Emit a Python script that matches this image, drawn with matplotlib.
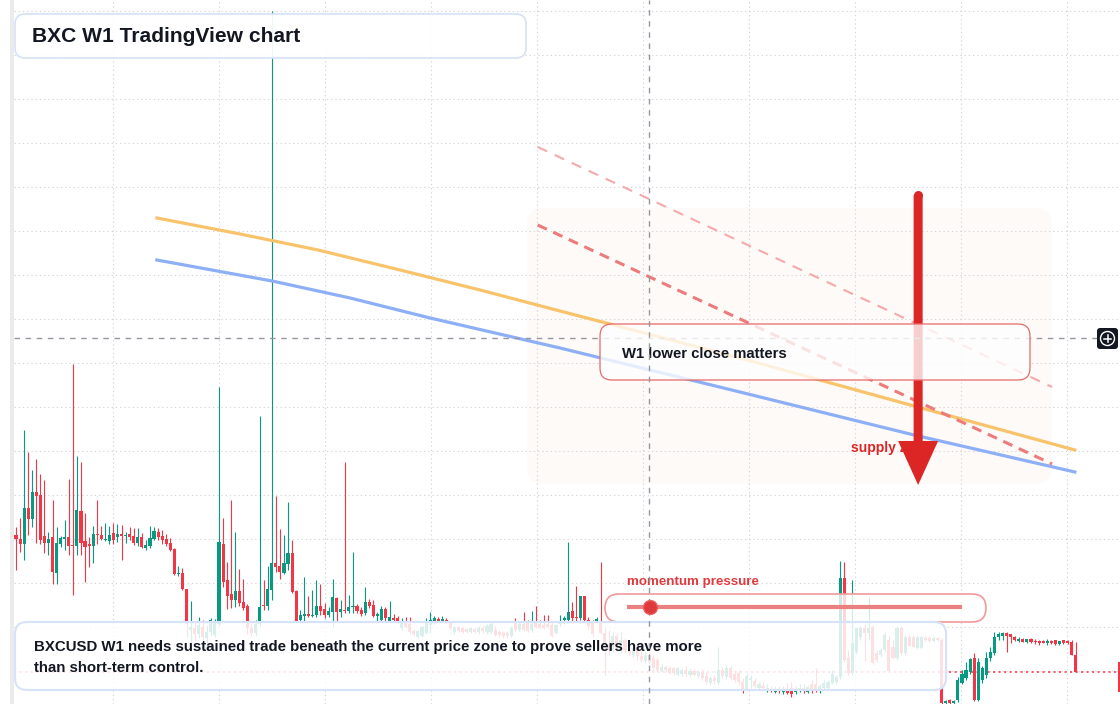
import matplotlib
matplotlib.use("Agg")
import matplotlib.pyplot as plt
import numpy as np
from matplotlib.patches import ArrowStyle, Circle, FancyArrowPatch, FancyBboxPatch, Rectangle

plt.rcParams["font.family"] = ["Liberation Sans", "DejaVu Sans"]

# BXCUSD weekly candles (W1), prices in US cents
opens = [
    169, 165, 160, 196, 185, 212, 209, 168, 161, 167,
    131, 160, 165, 167, 159, 158, 193, 163, 160, 158,
    170, 169, 164, 163, 171, 167, 170, 168, 170, 168,
    161, 167, 156, 158, 165, 172, 168, 165, 161, 155,
    130, 131, 115, 74, 76, 70, 77, 66, 72, 69,
    80, 160, 124, 110, 104, 113, 102, 98, 76, 71,
    80, 99, 98, 114, 141, 138, 131, 140, 151, 113,
    84, 88, 90, 88, 89, 98, 95, 89, 92, 106,
    92, 94, 93, 97, 98, 94, 91, 102, 99, 88,
    84, 95, 83, 86, 86, 76, 81, 80, 73, 67,
    68, 71, 79, 82, 85, 83, 84, 82, 72, 77,
    76, 75, 72, 75, 72, 76, 72, 72, 74, 72,
    71, 71, 68, 81, 74, 80, 81, 74, 83, 80,
    79, 80, 79, 71, 80, 84, 84, 93, 87, 86,
    108, 84, 81, 83, 81, 71, 59, 54, 68, 54,
    64, 54, 49, 56, 48, 43, 49, 46, 44, 33,
    37, 36, 36, 29, 30, 34, 29, 33, 28, 32,
    28, 21, 26, 21, 34, 27, 36, 30, 31, 22,
    15, 24, 23, 16, 18, 14, 15, 12, 15, 12,
    15, 16, 12, 14, 16, 12, 20, 20, 13, 16,
    16, 21, 22, 27, 126, 46, 31, 52, 67, 76,
    71, 77, 51, 49, 54, 64, 57, 46, 76, 51,
    67, 67, 56, 56, 66, 66, 63, 66, 64, 1,
    4, 1, 4, 21, 26, 32, 46, 4, 24, 29,
    46, 51, 67, 68, 71, 70, 67, 63, 65, 62,
    65, 63, 63, 63, 61, 63, 64, 60, 64, 63,
    62, 49,
]
highs = [
    177, 186, 274, 252, 234, 245, 230, 224, 172, 204,
    177, 168, 184, 225, 340, 248, 242, 191, 167, 178,
    204, 178, 181, 178, 181, 180, 179, 172, 177, 176,
    176, 171, 164, 178, 177, 176, 174, 170, 166, 156,
    138, 136, 115, 103, 82, 87, 84, 79, 86, 85,
    317, 186, 142, 204, 172, 135, 125, 100, 80, 84,
    288, 124, 138, 693, 208, 175, 169, 202, 164, 114,
    94, 127, 108, 114, 124, 120, 101, 97, 125, 107,
    104, 242, 109, 152, 100, 97, 117, 105, 104, 92,
    98, 97, 103, 90, 88, 86, 87, 87, 75, 74,
    78, 86, 92, 88, 87, 88, 86, 83, 78, 78,
    77, 76, 77, 76, 78, 78, 80, 82, 78, 74,
    73, 73, 78, 86, 82, 92, 84, 93, 98, 84,
    89, 89, 82, 80, 89, 88, 162, 102, 118, 108,
    108, 87, 84, 87, 142, 76, 74, 72, 71, 72,
    66, 61, 59, 58, 54, 52, 52, 49, 47, 40,
    39, 38, 37, 37, 36, 38, 36, 35, 34, 35,
    32, 28, 29, 57, 37, 39, 38, 34, 34, 26,
    31, 29, 26, 22, 22, 20, 18, 18, 18, 18,
    21, 22, 18, 20, 20, 19, 24, 36, 20, 24,
    24, 34, 29, 143, 142, 54, 124, 76, 78, 79,
    107, 79, 54, 56, 72, 68, 64, 78, 78, 69,
    70, 69, 68, 68, 68, 68, 67, 67, 66, 4,
    5, 4, 27, 34, 42, 46, 51, 46, 38, 52,
    57, 72, 72, 72, 72, 70, 68, 67, 66, 65,
    66, 65, 64, 64, 65, 64, 64, 63, 64, 64,
    64, 62,
]
lows = [
    134, 152, 144, 169, 177, 161, 160, 151, 149, 120,
    120, 157, 154, 149, 109, 149, 149, 122, 137, 141,
    160, 164, 163, 160, 160, 162, 144, 161, 164, 159,
    158, 156, 154, 156, 164, 164, 160, 158, 153, 129,
    128, 114, 67, 62, 64, 66, 60, 58, 68, 67,
    78, 117, 95, 96, 97, 98, 94, 70, 68, 68,
    78, 94, 94, 104, 132, 125, 130, 134, 111, 82,
    82, 82, 87, 87, 87, 89, 86, 87, 77, 82,
    87, 91, 91, 91, 91, 88, 89, 96, 87, 82,
    82, 83, 82, 82, 81, 74, 76, 70, 68, 66,
    67, 70, 71, 80, 82, 82, 81, 74, 70, 72,
    71, 71, 71, 71, 70, 71, 70, 71, 68, 67,
    66, 66, 67, 73, 73, 73, 72, 72, 76, 75,
    75, 76, 67, 70, 78, 80, 82, 83, 82, 84,
    82, 74, 68, 81, 70, 29, 49, 52, 54, 51,
    51, 48, 47, 44, 42, 41, 40, 33, 32, 32,
    32, 30, 29, 28, 28, 28, 27, 28, 26, 24,
    20, 19, 20, 19, 26, 25, 24, 22, 20, 11,
    14, 16, 16, 14, 14, 12, 12, 11, 11, 10,
    10, 7, 10, 12, 11, 11, 11, 12, 11, 14,
    14, 20, 20, 25, 42, 29, 29, 50, 64, 43,
    64, 40, 42, 47, 52, 32, 45, 44, 49, 49,
    58, 57, 55, 55, 63, 62, 62, 63, 0, 0,
    0, 0, 2, 20, 24, 30, 3, 3, 21, 26,
    43, 49, 64, 64, 52, 61, 63, 62, 62, 61,
    61, 60, 59, 61, 59, 60, 59, 59, 60, 60,
    49, 32,
]
closes = [
    165, 160, 196, 185, 212, 208, 164, 161, 165, 132,
    161, 166, 167, 158, 158, 194, 161, 157, 158, 170,
    169, 165, 165, 169, 164, 170, 168, 169, 167, 161,
    167, 157, 159, 166, 173, 167, 164, 160, 154, 130,
    131, 115, 80, 77, 70, 79, 67, 72, 84, 82,
    162, 122, 108, 104, 113, 101, 96, 76, 71, 80,
    97, 98, 115, 141, 137, 132, 141, 151, 112, 83,
    89, 90, 88, 89, 98, 93, 89, 93, 107, 92,
    95, 93, 97, 98, 93, 90, 102, 98, 88, 90,
    95, 86, 87, 84, 83, 82, 77, 72, 70, 73,
    77, 82, 84, 86, 83, 85, 82, 76, 77, 73,
    72, 72, 76, 72, 76, 73, 78, 80, 69, 69,
    68, 68, 76, 74, 80, 74, 73, 80, 77, 76,
    76, 77, 68, 79, 83, 86, 92, 86, 86, 108,
    84, 78, 70, 85, 71, 59, 54, 68, 56, 64,
    54, 51, 56, 48, 44, 49, 42, 36, 34, 37,
    34, 31, 31, 36, 34, 30, 33, 29, 32, 26,
    22, 26, 23, 34, 28, 36, 26, 24, 22, 13,
    28, 26, 18, 20, 16, 16, 13, 15, 13, 14,
    11, 10, 15, 16, 13, 17, 13, 14, 18, 21,
    22, 30, 27, 126, 44, 31, 61, 76, 76, 71,
    76, 41, 44, 54, 69, 33, 46, 76, 51, 67,
    58, 57, 67, 67, 64, 63, 66, 64, 1, 3,
    1, 3, 24, 30, 34, 45, 4, 42, 36, 46,
    52, 67, 70, 71, 68, 67, 64, 65, 62, 65,
    62, 62, 61, 61, 63, 61, 60, 63, 61, 61,
    49, 32,
]

# drawings on the chart: x in candle index, y in USD
slow_ma_x = [34.7, 55.2, 74.4, 94.6, 114.3, 134.0, 178.3, 221.2, 260.8]
slow_ma = [4.86, 4.70, 4.54, 4.34, 4.14, 3.93, 3.46, 2.98, 2.54]
fast_ma_x = [34.7, 63.1, 82.3, 102.0, 134.0, 178.3, 221.2, 260.8]
fast_ma = [4.44, 4.23, 4.06, 3.86, 3.56, 3.12, 2.69, 2.32]
trend_x = [128.5, 255.2]
trend_lower = [4.79, 2.40]
trend_upper = [5.57, 3.17]
arrow_x = 222.2
arrow_top, arrow_tip = 5.09, 2.19
label_x, label_y = 205.7, 2.56
cross_x, cross_y = 155.9, 3.66

GREEN = "#089981"
RED = "#f23645"
INK = "#131722"

W, H, DPI = 1120, 704, 100
STEP, X0 = 4.06, 16  # pixels per candle, pixel x of the first candle

o = np.array(opens) / 100
h = np.array(highs) / 100
l = np.array(lows) / 100
c = np.array(closes) / 100
idx = np.arange(len(c))

fig = plt.figure(figsize=(W / DPI, H / DPI), dpi=DPI)

# background layer in pixel coordinates
bg = fig.add_axes([0, 0, 1, 1], zorder=0)
bg.set_xlim(0, W)
bg.set_ylim(H, 0)
bg.set_axis_off()
bg.add_patch(Rectangle((10, 0), 4, H, fc="#ebebeb", ec="none"))
bg.add_patch(FancyBboxPatch((527, 208), 525, 276, boxstyle="round,pad=0,rounding_size=16",
                            fc="#fdf5ef", ec="none", alpha=0.45))

# price chart
ax = fig.add_axes([0, 0, 1, 1], zorder=1)
ax.patch.set_alpha(0)
xmax = (W - X0) / STEP
ax.set_xlim(-X0 / STEP, xmax)
ax.set_ylim(0, H / 100)
ax.set_axis_off()

grid_kw = dict(colors="#d3d6dc", lw=0.8, linestyles=(0, (1.2, 2.6)), zorder=0.8)
ax.hlines(np.arange(0.33, 7.0, 0.44), -0.5, xmax, **grid_kw)
ax.vlines([23.9 + 26.1 * k for k in range(10)], 0, H / 100, **grid_kw)

ax.axhline(c[-1], xmin=0.0125, color=RED, lw=1.1, ls=(0, (1.4, 2.2)), zorder=1)

cols = np.where(c >= o, GREEN, RED)
ax.vlines(idx, l, h, colors=cols, lw=0.8, zorder=2)
ax.bar(idx, np.maximum(np.abs(c - o), 0.012), bottom=np.minimum(o, c), width=0.76,
       color=cols, lw=0, zorder=2.1)

ax.plot(slow_ma_x, slow_ma, color="#f8c36b", lw=2.3, zorder=3)
ax.plot(fast_ma_x, fast_ma, color="#8daff6", lw=2.3, zorder=3)
ax.plot(trend_x, trend_upper, color="#f4aaaa", lw=1.5, ls=(0, (5, 4)), zorder=3)
ax.plot(trend_x, trend_lower, color="#ec7b7b", lw=2.2, ls=(0, (3.3, 2.3)), zorder=3)

ax.text(label_x, label_y, "supply zone", color="#dc2626", fontsize=10, fontweight="bold",
        ha="left", va="center", zorder=3.5)
ax.add_patch(FancyArrowPatch((arrow_x, arrow_top), (arrow_x, arrow_tip),
                             arrowstyle=ArrowStyle.Simple(head_length=31.7, head_width=28.8, tail_width=6.5),
                             mutation_scale=1, shrinkA=0, shrinkB=0, color="#dc2626", lw=0, zorder=4))
ax.plot([arrow_x], [arrow_top], "o", ms=6.5, color="#dc2626", mec="none", zorder=4)

# overlay panels in pixel coordinates
ui = fig.add_axes([0, 0, 1, 1], zorder=2)
ui.patch.set_alpha(0)
ui.set_xlim(0, W)
ui.set_ylim(H, 0)
ui.set_axis_off()

ui.hlines(H - cross_y * 100, 14, 1097, colors="#9598a1", lw=1, linestyles=(0, (4, 4)), zorder=1)


def panel(x0, y0, x1, y1, r, alpha, ec, lw, z=2):
    ui.add_patch(FancyBboxPatch((x0, y0), x1 - x0, y1 - y0,
                                boxstyle=f"round,pad=0,rounding_size={r}",
                                fc=(1, 1, 1, alpha), ec=ec, lw=lw, zorder=z))


panel(15, 14, 526, 58, 10, 0.93, "#d5e1f6", 1.2)
ui.text(32, 36.5, "BXC W1 TradingView chart", fontsize=15.1, fontweight="bold", color=INK,
        ha="left", va="center", zorder=3)

panel(600, 324, 1030, 380, 12, 0.78, "#e66a6a", 0.9)
ui.text(622, 353.5, "W1 lower close matters", fontsize=10.7, fontweight="bold", color=INK,
        ha="left", va="center", zorder=3)

panel(605, 594, 986, 622, 14, 0.8, "#f09a9a", 1.2)
ui.text(627, 582, "momentum pressure", fontsize=9.6, fontweight="bold", color="#e03a3e",
        ha="left", va="center", zorder=3)
ui.plot([627, 962], [607, 607], color="#ea8080", lw=3, solid_capstyle="butt", zorder=3)

panel(15, 622, 946, 690, 12, 0.85, "#d6e2f7", 1.5)
ui.text(34, 647.5, "BXCUSD W1 needs sustained trade beneath the current price zone to prove sellers have more",
        fontsize=10.8, fontweight="bold", color=INK, ha="left", va="center", zorder=3)
ui.text(34, 668, "than short-term control.", fontsize=10.8, fontweight="bold", color=INK,
        ha="left", va="center", zorder=3)

ui.axvline(cross_x * STEP + X0, color="#9598a1", lw=1, ls=(0, (4, 4)), zorder=4)
ui.plot([650], [607], "o", ms=10, color="#e0393c", mec="#e86060", zorder=5)

# crosshair button and price label edge on the right
ui.add_patch(FancyBboxPatch((1097, 328), 21, 21, boxstyle="round,pad=0,rounding_size=3",
                            fc=INK, ec="none", zorder=5))
ui.add_patch(Circle((1107.5, 338.5), 7, fill=False, ec="white", lw=1, zorder=6))
ui.plot([1104, 1111], [338.5, 338.5], color="white", lw=1.1, zorder=6)
ui.plot([1107.5, 1107.5], [335, 342], color="white", lw=1.1, zorder=6)
ui.add_patch(Rectangle((1118, 662), 2, 30, fc=RED, ec="none", zorder=5))

fig.savefig("out.png", dpi=DPI)
